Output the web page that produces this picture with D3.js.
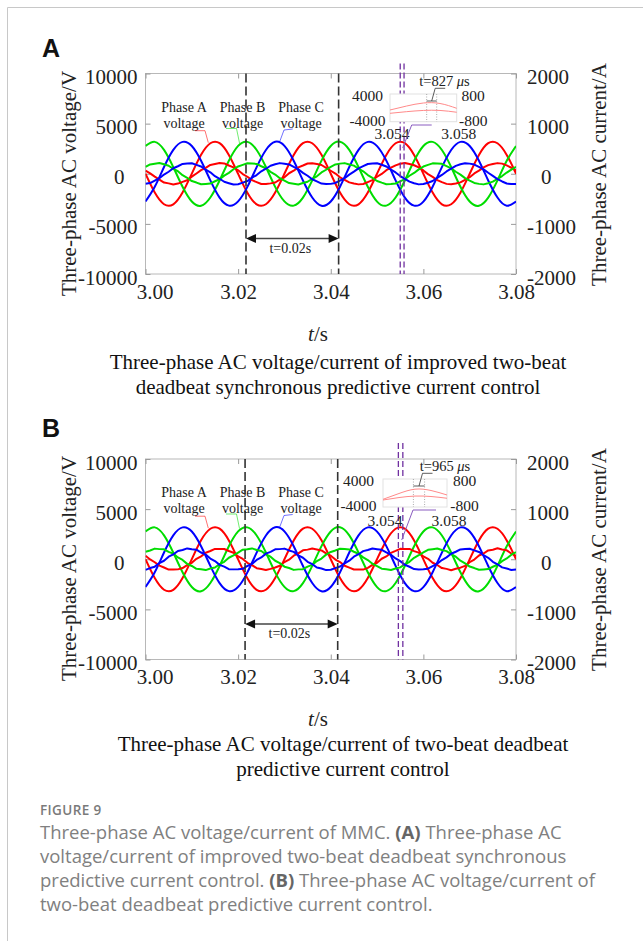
<!DOCTYPE html>
<html>
<head>
<meta charset="utf-8">
<script src="https://cdn.jsdelivr.net/npm/d3@7"></script>
<style>
  html, body { margin: 0; padding: 0; background: #fff; }
  svg { display: block; }
</style>
</head>
<body>
<svg id="fig" width="643" height="941"></svg>
<script>
// ---------- sample times (s) ----------
const voltageTimes = [3.000,3.002,3.004,3.006,3.008,3.010,3.012,3.014,3.016,3.018,
  3.020,3.022,3.024,3.026,3.028,3.030,3.032,3.034,3.036,3.038,
  3.040,3.042,3.044,3.046,3.048,3.050,3.052,3.054,3.056,3.058,
  3.060,3.062,3.064,3.066,3.068,3.070,3.072,3.074,3.076,3.078,3.080];

const currentTimes = [3.000,3.001,3.002,3.003,3.004,3.005,3.006,3.007,3.008,3.009,
  3.010,3.011,3.012,3.013,3.014,3.015,3.016,3.017,3.018,3.019,
  3.020,3.021,3.022,3.023,3.024,3.025,3.026,3.027,3.028,3.029,
  3.030,3.031,3.032,3.033,3.034,3.035,3.036,3.037,3.038,3.039,
  3.040,3.041,3.042,3.043,3.044,3.045,3.046,3.047,3.048,3.049,
  3.050,3.051,3.052,3.053,3.054,3.055,3.056,3.057,3.058,3.059,
  3.060,3.061,3.062,3.063,3.064,3.065,3.066,3.067,3.068,3.069,
  3.070,3.071,3.072,3.073,3.074,3.075,3.076,3.077,3.078,3.079,3.080];

// ---------- phase voltages (V), same in both tests ----------
const phaseAVoltage = [0,-1880,-3040,-3050,-1870,10,1890,3040,3050,1880,
  -10,-1890,-3050,-3040,-1880,0,1870,3050,3040,1890,
  0,-1880,-3040,-3050,-1880,10,1880,3040,3050,1870,
  -10,-1880,-3050,-3040,-1890,0,1880,3050,3040,1880,0];
const phaseBVoltage = [2770,3180,2380,660,-1300,-2770,-3190,-2370,-670,1300,
  2780,3180,2370,670,-1310,-2760,-3180,-2380,-660,1310,
  2770,3190,2380,660,-1300,-2780,-3180,-2370,-670,1290,
  2770,3180,2370,670,-1300,-2770,-3190,-2380,-660,1300,2770];
const phaseCVoltage = [-2770,-1300,670,2380,3180,2770,1300,-660,-2380,-3180,
  -2760,-1310,660,2370,3190,2780,1300,-670,-2370,-3190,
  -2770,-1300,670,2380,3180,2760,1310,-660,-2380,-3180,
  -2780,-1290,660,2370,3180,2770,1300,-670,-2370,-3190,-2770];

// ---------- phase currents (A), improved synchronous control ----------
const improvedCurrentA = [62,8,-58,-118,-176,-192,-214,-196,-162,-130,-58,6,72,118,176,194,214,206,164,128,
  70,-6,-60,-128,-166,-204,-206,-192,-174,-116,-70,10,60,128,164,204,208,196,174,116,
  60,4,-70,-120,-172,-196,-212,-204,-166,-126,-60,-4,70,120,168,198,216,194,170,126,
  66,-8,-62,-126,-168,-202,-208,-196,-172,-120,-68,6,62,126,172,196,212,202,166,120,64];
const improvedCurrentB = [136,186,200,214,188,160,98,50,-28,-80,-146,-176,-210,-204,-196,-150,-110,-38,18,90,
  146,178,210,204,196,150,110,38,-16,-90,-136,-186,-200,-214,-186,-160,-100,-50,26,80,
  138,186,202,212,186,162,100,48,-26,-82,-144,-178,-208,-206,-194,-152,-108,-40,16,88,
  144,176,208,206,198,152,108,40,-18,-88,-138,-184,-202,-212,-188,-158,-102,-46,24,82,140];
const improvedCurrentC = [-200,-186,-136,-90,-16,40,110,150,196,204,210,178,146,80,28,-48,-100,-160,-188,-214,
  -208,-178,-146,-80,-26,48,100,160,188,212,200,186,136,90,18,-40,-110,-152,-196,-204,
  -202,-184,-138,-88,-18,42,108,152,194,206,208,180,144,82,26,-46,-102,-158,-190,-212,
  -206,-180,-144,-82,-24,46,102,158,190,210,202,184,138,88,20,-42,-108,-154,-194,-206,-204];

// ---------- phase currents (A), two-beat deadbeat control ----------
const deadbeatCurrentA = [70,-4,-60,-128,-164,-206,-204,-202,-176,-116,-72,8,58,130,164,206,206,204,164,130,
  58,6,-72,-116,-178,-194,-216,-192,-164,-130,-56,-8,72,116,178,192,216,196,176,116,
  72,-6,-56,-130,-168,-204,-202,-206,-172,-114,-70,10,56,128,166,208,204,206,162,132,
  56,8,-70,-114,-176,-192,-218,-190,-168,-132,-58,-6,74,114,176,190,218,194,178,114,68];
const deadbeatCurrentB = [148,174,212,202,198,148,112,36,-14,-92,-134,-190,-198,-216,-184,-164,-98,-52,30,78,
  134,190,198,216,184,164,98,52,-30,-78,-148,-174,-212,-202,-198,-148,-112,-36,14,92,
  146,176,210,204,196,150,110,38,-16,-90,-136,-188,-200,-214,-186,-162,-100,-50,28,80,
  136,188,200,214,186,162,100,50,-28,-80,-146,-176,-210,-204,-196,-150,-110,-38,16,90,142];
const deadbeatCurrentC = [-212,-176,-148,-78,-30,52,98,164,184,216,198,190,134,92,14,-36,-112,-148,-198,-202,
  -198,-190,-134,-92,-14,36,112,148,198,202,212,176,148,78,30,-52,-98,-164,-184,-216,
  -210,-178,-146,-80,-28,50,100,162,186,214,200,188,136,90,16,-38,-110,-150,-196,-204,
  -200,-188,-136,-90,-16,38,110,150,196,204,210,178,146,80,28,-50,-100,-162,-186,-214,-206];

// ---------- axis ticks ----------
const timeTicks = [3.00, 3.02, 3.04, 3.06, 3.08];
const voltageTicks = [-10000, -5000, 0, 5000, 10000];
const currentTicks = [-2000, -1000, 0, 1000, 2000];

// ---------- annotations ----------
const periodMarksA = [3.0217, 3.0417];
const periodMarksB = [3.0215, 3.0415];
const delayMarksA = [3.0550, 3.055827];
const delayMarksB = [3.0546, 3.055565];
const delayLabelA = ["t=827 ", "μ", "s"];
const delayLabelB = ["t=965 ", "μ", "s"];
const periodLabel = "t=0.02s";
const phaseNames = ["Phase A", "Phase B", "Phase C"];

// ---------- magnified window (phase A voltage / current near the peak) ----------
const insetTimes = [3.054, 3.055, 3.056, 3.057, 3.058];
const insetTimeTicks = [3.054, 3.058];
const insetVoltageTicks = [-4000, 4000];
const insetCurrentTicks = [-800, 800];
const insetVoltageA = [-620, 530, 1400, 1260, -130];
const insetCurrentA = [-315, -220, -150, -150, -255];
const insetVoltageB = [-1800, -140, 1090, 715, -570];
const insetCurrentB = [-400, -260, -175, -200, -300];
const insetMarksA = [3.0562, 3.0568];
const insetMarksB = [3.0559, 3.0566];

const titleA = ["Three-phase AC voltage/current of improved two-beat",
                "deadbeat synchronous predictive current control"];
const titleB = ["Three-phase AC voltage/current of two-beat deadbeat",
                "predictive current control"];

const SERIF = "'Liberation Serif', 'Times New Roman', serif";
const SANS = "'Liberation Sans', Arial, sans-serif";
const CAPTION_FONT = "'Open Sans', 'Noto Sans', sans-serif";
const COLORS = ["#ff0000", "#00dd00", "#0000ff"];
const plain = d => String(d);   // ASCII hyphen for negative tick labels

const svg = d3.select("#fig");
svg.append("rect").attr("width", 643).attr("height", 941).attr("fill", "#fff");
// page frame (top and left rules)
svg.append("path").attr("d", "M643,7.5H7.5V941")
  .attr("fill", "none").attr("stroke", "#c8c8c8").attr("stroke-width", 1);

const panels = [
  {
    letter: "A", letterY: 57, top: 73.5,
    currents: [improvedCurrentA, improvedCurrentB, improvedCurrentC],
    periodMarks: periodMarksA, delayMarks: delayMarksA, delayLabel: delayLabelA, purpleRise: 10,
    inset: { left: 390, right: 456.7, top: 94, bottom: 121.7, lblL: -22.5, lblR: 16.5, xLblDy: 11.5,
             textX: 444.5, textBase: 86,
             purple: [[431.7, 125], [411.7, 125], [402.7, 148]] },
    insetV: insetVoltageA, insetI: insetCurrentA, insetMarks: insetMarksA,
    title: titleA, titleX: 338, titleY: 369, xLabelY: 341, leftTitleY: 183.5, rightTitleY: 174.5
  },
  {
    letter: "B", letterY: 437, top: 459,
    currents: [deadbeatCurrentA, deadbeatCurrentB, deadbeatCurrentC],
    periodMarks: periodMarksB, delayMarks: delayMarksB, delayLabel: delayLabelB, purpleRise: 16,
    inset: { left: 383, right: 447, top: 479, bottom: 507, lblL: -24.5, lblR: 17.5, xLblDy: 14,
             textX: 445, textBase: 471,
             purple: [[436, 510], [413, 510], [401.7, 540]] },
    insetV: insetVoltageB, insetI: insetCurrentB, insetMarks: insetMarksB,
    title: titleB, titleX: 343, titleY: 751, xLabelY: 726, leftTitleY: 568.5, rightTitleY: 559.5
  }
];

const PLOT_LEFT = 145.5, PLOT_RIGHT = 516, PLOT_H = 200.5;

function styleAxis(g) {
  g.attr("font-family", SERIF).attr("font-size", 21);
  g.select(".domain").remove();
  g.selectAll(".tick line").attr("stroke", "#9a9a9a");
  g.selectAll(".tick text").attr("fill", "#222");
}

panels.forEach((p, pi) => {
  const g = svg.append("g");
  const top = p.top, bottom = p.top + PLOT_H;
  const x = d3.scaleLinear().domain([timeTicks[0], timeTicks[timeTicks.length - 1]]).range([PLOT_LEFT, PLOT_RIGHT]);
  const yV = d3.scaleLinear().domain([voltageTicks[0], voltageTicks[4]]).range([bottom, top]);
  const yI = d3.scaleLinear().domain([currentTicks[0], currentTicks[4]]).range([bottom, top]);

  // panel letter
  g.append("text").attr("x", 42).attr("y", p.letterY)
    .attr("font-family", SANS).attr("font-weight", "bold").attr("font-size", 25)
    .attr("fill", "#111").text(p.letter);

  // plot frame
  g.append("rect").attr("x", PLOT_LEFT).attr("y", top)
    .attr("width", PLOT_RIGHT - PLOT_LEFT).attr("height", PLOT_H)
    .attr("fill", "none").attr("stroke", "#b8b8b8").attr("stroke-width", 1);

  // axes (inward ticks on all four sides)
  const axB = g.append("g").attr("transform", `translate(0,${bottom})`)
    .call(d3.axisBottom(x).tickValues(timeTicks).tickSize(-5).tickPadding(10).tickFormat(d3.format(".2f")));
  styleAxis(axB);
  axB.selectAll(".tick text").filter(d => d === timeTicks[0]).attr("dx", 9);
  const axT = g.append("g").attr("transform", `translate(0,${top})`)
    .call(d3.axisTop(x).tickValues(timeTicks).tickSize(-5).tickFormat(""));
  styleAxis(axT);
  const axL = g.append("g").attr("transform", `translate(${PLOT_LEFT},0)`)
    .call(d3.axisLeft(yV).tickValues(voltageTicks).tickSize(-5).tickPadding(8).tickFormat(plain));
  styleAxis(axL);
  axL.selectAll(".tick text").attr("dy", "0.48em");
  axL.selectAll(".tick text").filter(d => d === 0).attr("dx", -13);
  const axR = g.append("g").attr("transform", `translate(${PLOT_RIGHT},0)`)
    .call(d3.axisRight(yI).tickValues(currentTicks).tickSize(-5).tickPadding(11).tickFormat(plain));
  styleAxis(axR);
  axR.selectAll(".tick text").attr("dy", "0.48em");
  axR.selectAll(".tick text").filter(d => d === 0).attr("dx", 14);

  // axis titles
  g.append("text").attr("transform", `translate(75.5,${p.leftTitleY}) rotate(-90)`)
    .attr("text-anchor", "middle").attr("font-family", SERIF).attr("font-size", 21).attr("fill", "#222")
    .text("Three-phase AC voltage/V");
  g.append("text").attr("transform", `translate(605.5,${p.rightTitleY}) rotate(-90)`)
    .attr("text-anchor", "middle").attr("font-family", SERIF).attr("font-size", 21).attr("fill", "#222")
    .text("Three-phase AC current/A");
  const xl = g.append("text").attr("x", 318).attr("y", p.xLabelY).attr("text-anchor", "middle")
    .attr("font-family", SERIF).attr("font-size", 21).attr("fill", "#222");
  xl.append("tspan").attr("font-style", "italic").text("t");
  xl.append("tspan").text("/s");

  // subplot title
  p.title.forEach((line, i) => {
    g.append("text").attr("x", p.titleX).attr("y", p.titleY + i * 25).attr("text-anchor", "middle")
      .attr("font-family", SERIF).attr("font-size", 21).attr("fill", "#111").text(line);
  });

  // waveforms
  const clipId = "clip" + pi;
  g.append("clipPath").attr("id", clipId).append("rect")
    .attr("x", PLOT_LEFT).attr("y", top).attr("width", PLOT_RIGHT - PLOT_LEFT).attr("height", PLOT_H);
  const curves = g.append("g").attr("clip-path", `url(#${clipId})`);
  const vLine = d3.line().x((d, i) => x(voltageTimes[i])).y(d => yV(d)).curve(d3.curveNatural);
  const iLine = d3.line().x((d, i) => x(currentTimes[i])).y(d => yI(d));
  [phaseAVoltage, phaseBVoltage, phaseCVoltage].forEach((s, k) => {
    curves.append("path").attr("d", vLine(s)).attr("fill", "none")
      .attr("stroke", COLORS[k]).attr("stroke-width", 2).attr("stroke-linejoin", "round");
  });
  p.currents.forEach((s, k) => {
    curves.append("path").attr("d", iLine(s)).attr("fill", "none")
      .attr("stroke", COLORS[k]).attr("stroke-width", 2).attr("stroke-linejoin", "round");
  });

  // one-period markers
  p.periodMarks.forEach(t => {
    g.append("line").attr("x1", x(t)).attr("x2", x(t)).attr("y1", top).attr("y2", bottom)
      .attr("stroke", "#333").attr("stroke-width", 1.6).attr("stroke-dasharray", "9,4");
  });
  const ay = top + 165;
  const xa = x(p.periodMarks[0]), xb = x(p.periodMarks[1]);
  g.append("line").attr("x1", xa + 6).attr("x2", xb - 6).attr("y1", ay).attr("y2", ay)
    .attr("stroke", "#444").attr("stroke-width", 1.3);
  g.append("path").attr("d", `M${xa},${ay}l10,-4.5v9z`).attr("fill", "#111");
  g.append("path").attr("d", `M${xb},${ay}l-10,-4.5v9z`).attr("fill", "#111");
  g.append("text").attr("x", (xa + xb) / 2 - 2).attr("y", ay + 14).attr("text-anchor", "middle")
    .attr("font-family", SERIF).attr("font-size", 14).attr("fill", "#222").text(periodLabel);

  // voltage-to-current delay markers
  p.delayMarks.forEach(t => {
    g.append("line").attr("x1", x(t)).attr("x2", x(t)).attr("y1", top - p.purpleRise).attr("y2", bottom)
      .attr("stroke", "#7030a0").attr("stroke-width", 1.3).attr("stroke-dasharray", "6,3");
  });

  // phase labels with leaders
  const labelX = [184, 242.5, 301];
  const leaders = [
    [[195, 57.2], [205, 57.2], [208.3, 69.2]],
    [[226, 55], [236.5, 55], [239.5, 69.5]],
    [[292.7, 55.5], [284, 56.5], [279.3, 69.2]]
  ];
  phaseNames.forEach((name, k) => {
    g.append("text").attr("x", labelX[k]).attr("y", top + 38).attr("text-anchor", "middle")
      .attr("font-family", SERIF).attr("font-size", 14).attr("fill", "#222").text(name);
    g.append("text").attr("x", labelX[k]).attr("y", top + 54).attr("text-anchor", "middle")
      .attr("font-family", SERIF).attr("font-size", 14).attr("fill", "#222").text("voltage");
    g.append("path").attr("d", d3.line()(leaders[k].map(([a, b]) => [a, top + b])))
      .attr("fill", "none").attr("stroke", COLORS[k]).attr("stroke-width", 0.8).attr("opacity", 0.7);
  });

  // magnified window
  const ins = p.inset;
  const ix = d3.scaleLinear().domain(insetTimeTicks).range([ins.left, ins.right]);
  const iyV = d3.scaleLinear().domain(insetVoltageTicks).range([ins.bottom, ins.top]);
  const iyI = d3.scaleLinear().domain(insetCurrentTicks).range([ins.bottom, ins.top]);
  g.append("rect").attr("x", ins.left).attr("y", ins.top)
    .attr("width", ins.right - ins.left).attr("height", ins.bottom - ins.top)
    .attr("fill", "#fff").attr("stroke", "#e2e2e2").attr("stroke-width", 1);
  p.insetMarks.forEach(t => {
    g.append("line").attr("x1", ix(t)).attr("x2", ix(t)).attr("y1", ins.top).attr("y2", ins.bottom)
      .attr("stroke", "#8a8a8a").attr("stroke-width", 0.7).attr("stroke-dasharray", "1,1.5");
  });
  g.append("path").attr("d", d3.line().x((d, i) => ix(insetTimes[i])).y(d => iyV(d)).curve(d3.curveNatural)(p.insetV))
    .attr("fill", "none").attr("stroke", "#ff8a8a").attr("stroke-width", 1);
  g.append("path").attr("d", d3.line().x((d, i) => ix(insetTimes[i])).y(d => iyI(d)).curve(d3.curveNatural)(p.insetI))
    .attr("fill", "none").attr("stroke", "#ff8a8a").attr("stroke-width", 1);
  insetVoltageTicks.forEach(v => {
    g.append("text").attr("x", ins.left + ins.lblL).attr("y", iyV(v) + (v > 0 ? 2 : -1.5)).attr("dy", "0.35em")
      .attr("text-anchor", "middle").attr("font-family", SERIF).attr("font-size", 15.5).attr("fill", "#222")
      .text(v);
  });
  insetCurrentTicks.forEach(v => {
    g.append("text").attr("x", ins.right + ins.lblR).attr("y", iyI(v) + (v > 0 ? 2 : -1.5)).attr("dy", "0.35em")
      .attr("text-anchor", "middle").attr("font-family", SERIF).attr("font-size", 15.5).attr("fill", "#222")
      .text(v);
  });
  insetTimeTicks.forEach(t => {
    g.append("text").attr("x", ix(t) + 2).attr("y", ins.bottom + ins.xLblDy).attr("dy", "0.35em")
      .attr("text-anchor", "middle").attr("font-family", SERIF).attr("font-size", 15.5).attr("fill", "#222")
      .text(d3.format(".3f")(t));
  });
  // delay label and its leader to the marked interval
  const m0 = ix(p.insetMarks[0]), m1 = ix(p.insetMarks[1]);
  const mid = (m0 + m1) / 2, by = ins.top + 7;
  g.append("path").attr("d", `M${m0},${by}H${m1}M${mid},${by}L${mid + 3.5},${ins.top - 5.7}h10`)
    .attr("fill", "none").attr("stroke", "#333").attr("stroke-width", 0.8);
  const dl = g.append("text").attr("x", ins.textX).attr("y", ins.textBase).attr("text-anchor", "middle")
    .attr("font-family", SERIF).attr("font-size", 14.5).attr("fill", "#222");
  dl.append("tspan").text(p.delayLabel[0]);
  dl.append("tspan").attr("font-style", "italic").text(p.delayLabel[1]);
  dl.append("tspan").text(p.delayLabel[2]);
  g.append("path").attr("d", d3.line()(ins.purple))
    .attr("fill", "none").attr("stroke", "#8a5cc0").attr("stroke-width", 1);
});

// ---------- figure caption ----------
svg.append("text").attr("x", 40).attr("y", 815)
  .attr("font-family", CAPTION_FONT).attr("font-size", 13.5)
  .attr("font-weight", 600).attr("letter-spacing", 0.4).attr("fill", "#7a7a7a").text("FIGURE 9");
const captionLines = [
  [["Three-phase AC voltage/current of MMC. ", false], ["(A)", true], [" Three-phase AC", false]],
  [["voltage/current of improved two-beat deadbeat synchronous", false]],
  [["predictive current control. ", false], ["(B)", true], [" Three-phase AC voltage/current of", false]],
  [["two-beat deadbeat predictive current control.", false]]
];
captionLines.forEach((parts, i) => {
  const t = svg.append("text").attr("x", 40).attr("y", 839 + i * 24)
    .attr("font-family", CAPTION_FONT).attr("font-size", 18.5)
    .attr("fill", "#808080");
  parts.forEach(([s, b]) => {
    const ts = t.append("tspan").text(s);
    if (b) ts.attr("font-weight", "bold").attr("fill", "#666");
  });
});
</script>
</body>
</html>
